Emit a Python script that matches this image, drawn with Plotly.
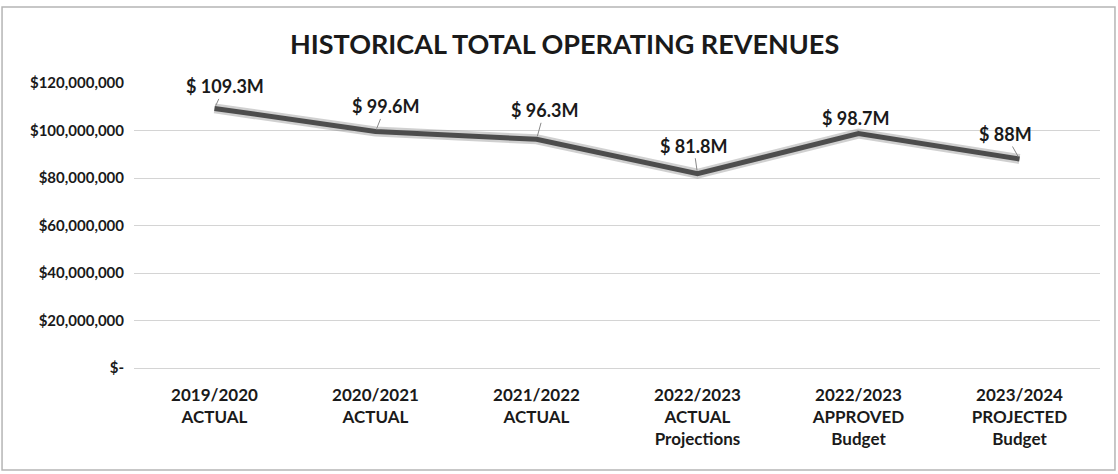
import plotly.graph_objects as go

categories = ["2019/2020<br>ACTUAL", "2020/2021<br>ACTUAL", "2021/2022<br>ACTUAL",
              "2022/2023<br>ACTUAL<br>Projections", "2022/2023<br>APPROVED<br>Budget",
              "2023/2024<br>PROJECTED<br>Budget"]
revenues = [109.3e6, 99.6e6, 96.3e6, 81.8e6, 98.7e6, 88.0e6]
value_labels = ["$ 109.3M", "$ 99.6M", "$ 96.3M", "$ 81.8M", "$ 98.7M", "$ 88M"]
label_offsets = [(10, -22), (10, -25), (8, -29), (-4, -28), (-3, -16), (-14, -25)]
y_ticks = [0, 20e6, 40e6, 60e6, 80e6, 100e6, 120e6]
y_tick_text = ["$-", "$20,000,000", "$40,000,000", "$60,000,000",
               "$80,000,000", "$100,000,000", "$120,000,000"]

FONT = "Lato"
fig = go.Figure()
fig.add_trace(go.Scatter(x=categories, y=revenues, mode="lines",
                         line=dict(color="rgba(120,120,120,0.35)", width=10),
                         hoverinfo="skip", showlegend=False))
fig.add_trace(go.Scatter(x=categories, y=revenues, mode="lines",
                         line=dict(color="#4d4d4d", width=5),
                         showlegend=False))

for c, v, t, (dx, dy) in zip(categories, revenues, value_labels, label_offsets):
    fig.add_annotation(x=c, y=v, text=f"<b>{t}</b>", showarrow=True,
                       arrowhead=0, arrowwidth=1, arrowcolor="#888888",
                       ax=dx, ay=dy, standoff=3,
                       font=dict(family=FONT, size=18, color="#1a1a1a"))

fig.update_layout(
    width=1118, height=474,
    margin=dict(l=134, r=18, t=83, b=106, autoexpand=False),
    paper_bgcolor="white", plot_bgcolor="white",
    title=dict(text="<b>HISTORICAL TOTAL OPERATING REVENUES</b>",
               x=0.505, xanchor="center", y=1 - 45 / 474, yanchor="middle",
               font=dict(family=FONT, size=27, color="#1a1a1a")),
    xaxis=dict(showgrid=False, showline=False, ticks="", range=[-0.5, 5.5],
               tickfont=dict(family=FONT, size=17, color="#1a1a1a"),
               tickprefix="<b>", ticksuffix="</b>", ticklabelstandoff=15),
    yaxis=dict(range=[0, 120e6], tickvals=y_ticks, ticktext=[f"<b>{t}</b>" for t in y_tick_text],
               showgrid=True, gridcolor="#d4d4d4", gridwidth=1,
               zeroline=True, zerolinecolor="#d4d4d4", zerolinewidth=1,
               tickfont=dict(family=FONT, size=15, color="#1a1a1a"), ticks="",
               ticklabelstandoff=9),
    shapes=[dict(type="rect", xref="paper", yref="paper",
                 x0=-0.1366, x1=1.0155, y0=-0.358, y1=1.2667,
                 line=dict(color="#b5b5b5", width=1.5), layer="below")],
)

fig.write_html("out.html", config={"displayModeBar": False},
               post_script="document.body.style.margin='0';")
